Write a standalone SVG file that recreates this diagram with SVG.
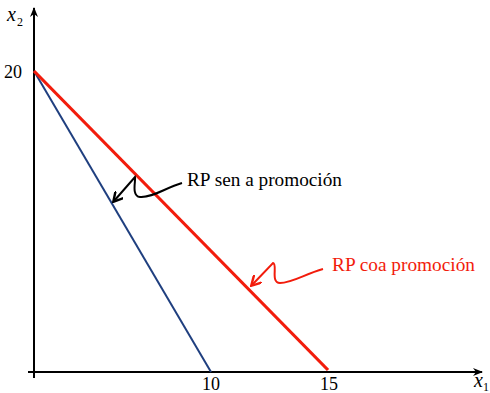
<svg xmlns="http://www.w3.org/2000/svg" width="490" height="393" viewBox="0 0 490 393">
<defs>
<marker id="ax" viewBox="0 0 10 10" refX="9" refY="5" markerWidth="10" markerHeight="10" markerUnits="userSpaceOnUse" orient="auto"><path d="M0,1 L10,5 L0,9 L3,5 Z" fill="#000"/></marker>
<marker id="ab" viewBox="0 0 10 10" refX="8" refY="5" markerWidth="11" markerHeight="11" markerUnits="userSpaceOnUse" orient="auto"><path d="M0,0 L9,5 L0,10" fill="none" stroke="#000" stroke-width="2.2"/></marker>
<marker id="ar" viewBox="0 0 10 10" refX="8" refY="5" markerWidth="11" markerHeight="11" markerUnits="userSpaceOnUse" orient="auto"><path d="M0,0 L9,5 L0,10" fill="none" stroke="#f21c0c" stroke-width="2.2"/></marker>
</defs>
<style>
.t{font-family:"Liberation Serif","DejaVu Serif",serif;font-size:18px}
.v{font-family:"Liberation Serif","DejaVu Serif",serif;font-style:italic;font-size:20px}
.s{font-family:"Liberation Serif","DejaVu Serif",serif;font-size:12px}
</style>
<rect width="490" height="393" fill="#fff"/>
<g id="axes" stroke="#000" stroke-width="2" fill="none">
<line x1="34" y1="378" x2="34" y2="8" marker-end="url(#ax)"/>
<line x1="28" y1="372" x2="482" y2="372" marker-end="url(#ax)"/>
</g>
<g id="lines" fill="none">
<line id="blue" x1="34" y1="71" x2="211" y2="372" stroke="#1f3f7f" stroke-width="2"/>
<line id="red" x1="34" y1="71" x2="328" y2="370" stroke="#f21c0c" stroke-width="3.2"/>
</g>
<g id="connectors" fill="none" stroke-width="2">
<path d="M182,183 C165,188 152,198 140,197 C131,196 136,180 135,177 L114,201" stroke="#000" marker-end="url(#ab)"/>
<path d="M323,269 C305,274 292,283 280,283 C270,283 278,264 273,263 L252,285" stroke="#f21c0c" marker-end="url(#ar)"/>
</g>
<g id="labels">
<text class="t" x="4" y="78">20</text>
<text class="t" x="211" y="390" text-anchor="middle">10</text>
<text class="t" x="329" y="390" text-anchor="middle">15</text>
<text class="v" x="7" y="21">x</text><text class="s" x="17" y="26">2</text>
<text class="v" x="474" y="387">x</text><text class="s" x="483" y="391">1</text>
<text class="t" x="187" y="186" textLength="155" lengthAdjust="spacingAndGlyphs">RP sen a promoción</text>
<text class="t" x="332" y="271" textLength="143" lengthAdjust="spacingAndGlyphs" fill="#f21c0c">RP coa promoción</text>
</g>
</svg>
